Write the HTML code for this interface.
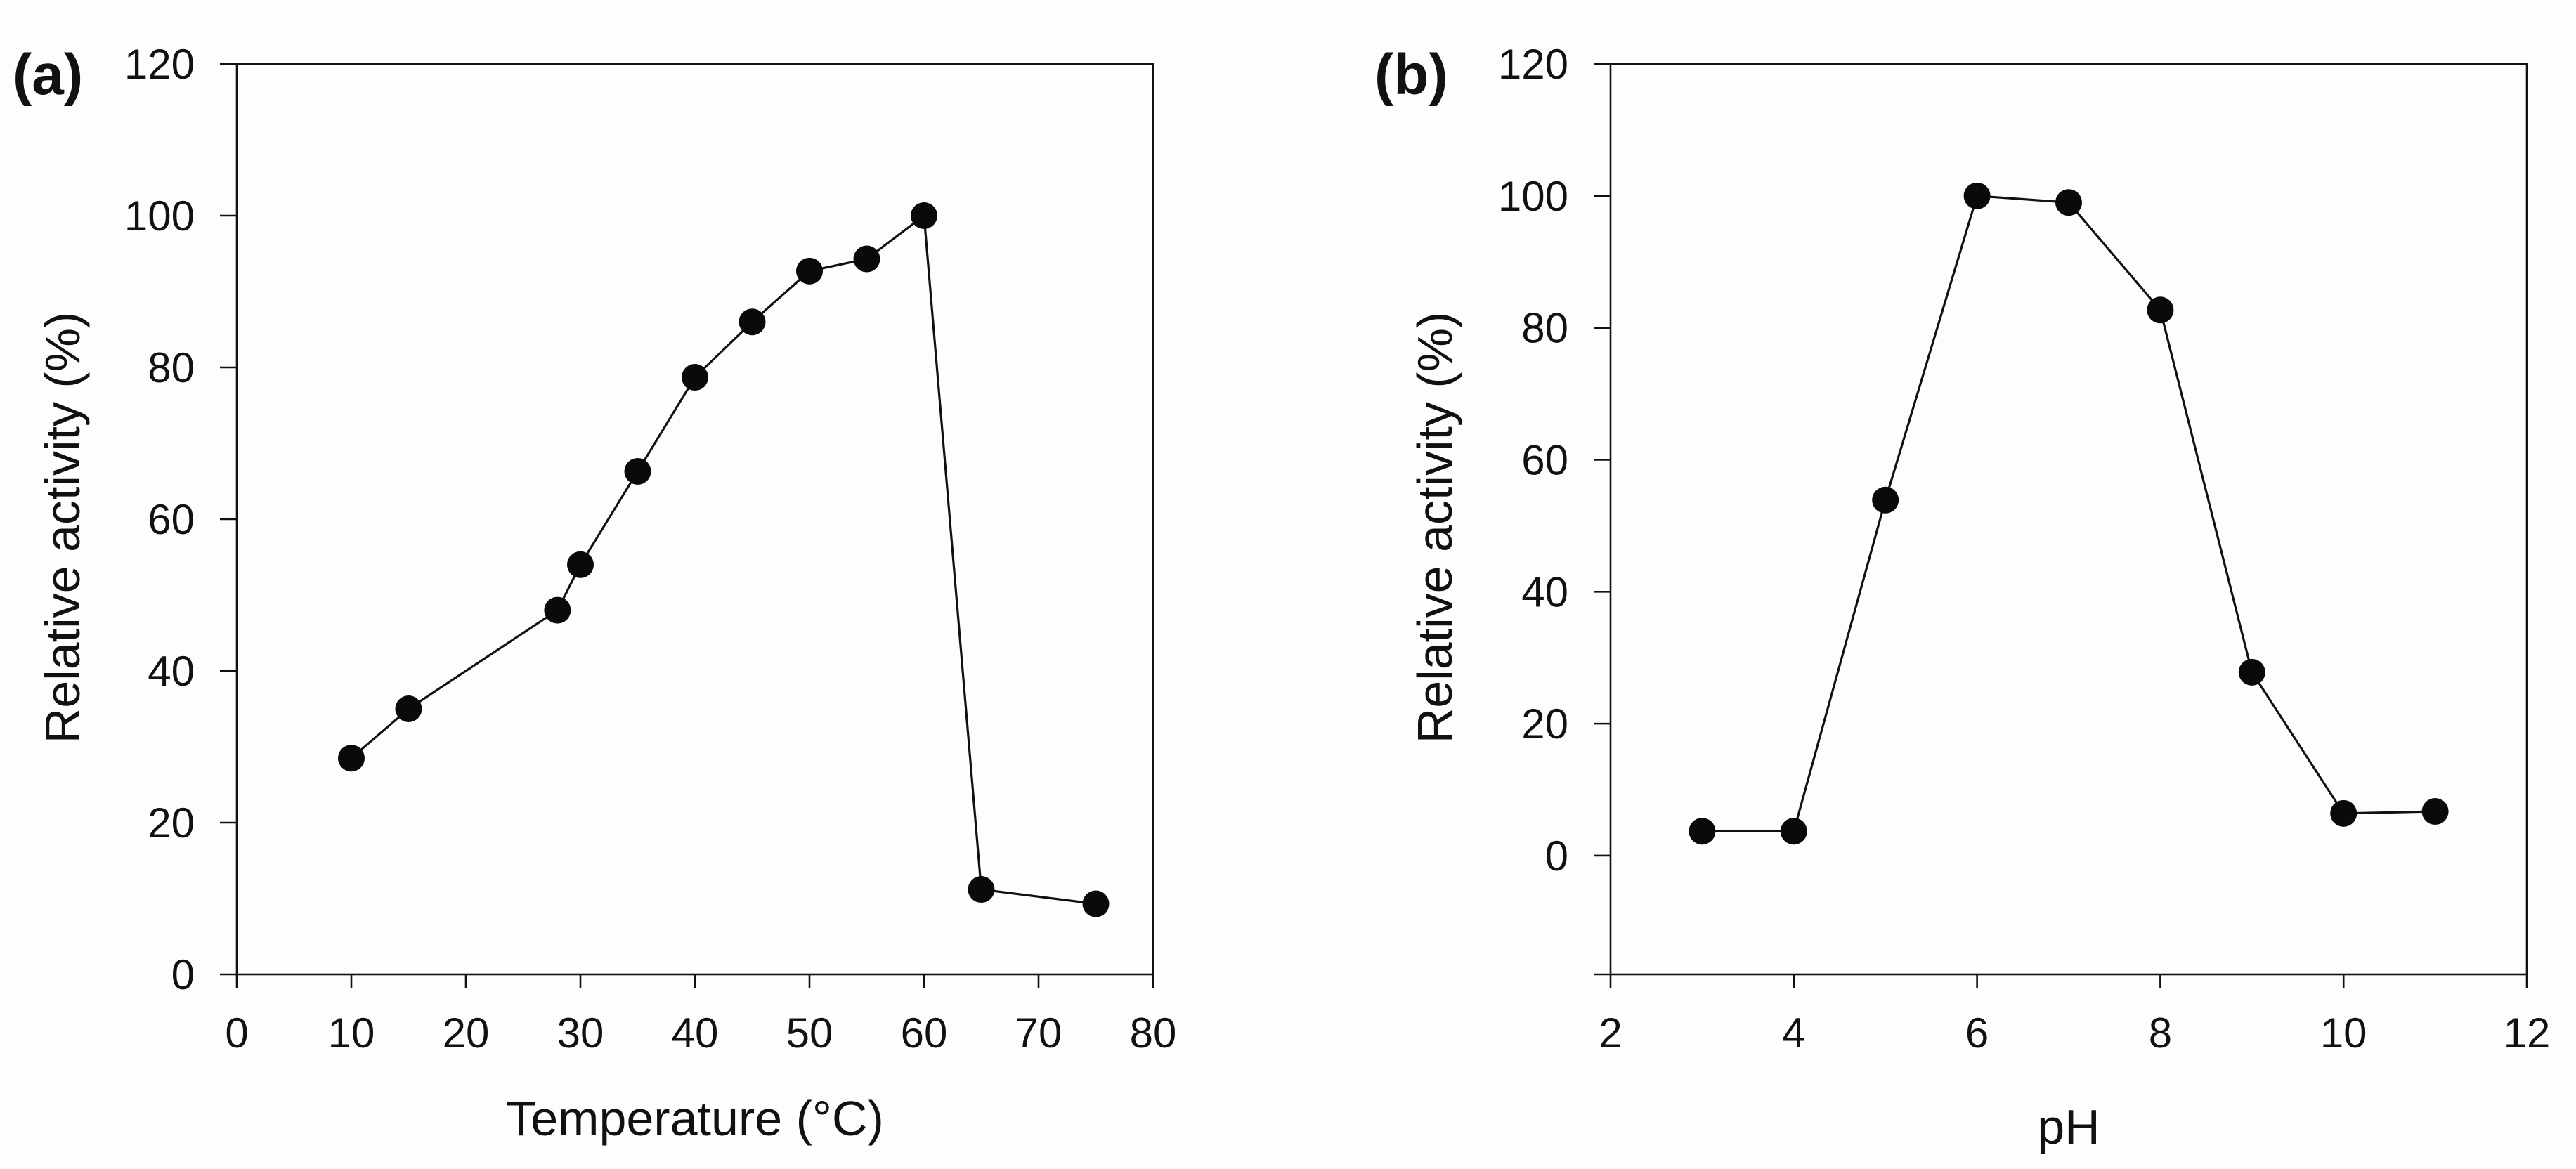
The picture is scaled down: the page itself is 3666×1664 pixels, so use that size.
<!DOCTYPE html>
<html><head><meta charset="utf-8">
<style>
html,body{margin:0;padding:0;background:#fefdfc;}
svg{display:block;font-family:"Liberation Sans",Arial,sans-serif;}
</style></head>
<body>
<svg id="fig" width="3666" height="1664" viewBox="0 0 3666 1664" xmlns="http://www.w3.org/2000/svg">
<rect x="0" y="0" width="3666" height="1664" fill="#fefdfc"/>
</svg>
<script>
// Panel (a): temperature
const tempX = [10, 15, 28, 30, 35, 40, 45, 50, 55, 60, 65, 75];
const tempY = [28.5, 35, 48, 54, 66.3, 78.7, 86, 92.7, 94.3, 100, 11.2, 9.3];
const tempXTicks = [0, 10, 20, 30, 40, 50, 60, 70, 80];
const tempYTicks = [0, 20, 40, 60, 80, 100, 120];
// Panel (b): pH
const phX = [3, 4, 5, 6, 7, 8, 9, 10, 11];
const phY = [3.7, 3.7, 53.9, 100, 99, 82.7, 27.8, 6.4, 6.7];
const phXTicks = [2, 4, 6, 8, 10, 12];
const phYTicks = [0, 20, 40, 60, 80, 100, 120];

const NS = "http://www.w3.org/2000/svg";
const svg = document.getElementById('fig');
function mk(tag, attrs, parent){
  const e = document.createElementNS(NS, tag);
  for (const k in attrs) e.setAttribute(k, attrs[k]);
  (parent || svg).appendChild(e);
  return e;
}

function panel(cfg){
  const g = mk('g', {});
  
  
  const L = cfg.left, R = cfg.right, T = 91, B = 1387;
  const sx = v => L + (v - cfg.xmin) / (cfg.xmax - cfg.xmin) * (R - L);
  const sy = v => B - (v - cfg.ymin) / (cfg.ymax - cfg.ymin) * (B - T);
  const frame = mk('rect', {x: L, y: T, width: R - L, height: B - T, fill: 'none', stroke: '#111', 'stroke-width': 2.6}, g);
  
  
  cfg.xticks.forEach(t => {
    const x = sx(t);
    const tk = mk('line', {x1: x, y1: B, x2: x, y2: B + 20, stroke: '#111', 'stroke-width': 2.6}, g);
    
    
    const lb = mk('text', {x: x, y: 1491, 'font-size': 60, 'text-anchor': 'middle', fill: '#111'}, g);
    lb.textContent = t;
    
    
  });
  cfg.yticks.forEach(t => {
    const y = sy(t);
    const tk = mk('line', {x1: L - 24, y1: y, x2: L, y2: y, stroke: '#111', 'stroke-width': 2.6}, g);
    
    
    const lb = mk('text', {x: L - 60, y: y + 21, 'font-size': 60, 'text-anchor': 'end', fill: '#111'}, g);
    lb.textContent = t;
    
    
  });
  if (cfg.ymin < 0) {
    const tk = mk('line', {x1: L - 24, y1: B, x2: L, y2: B, stroke: '#111', 'stroke-width': 2.6}, g);
    
    
  }
  const pts = cfg.xs.map((v, i) => sx(v) + ',' + sy(cfg.ys[i])).join(' ');
  const line = mk('polyline', {points: pts, fill: 'none', stroke: '#111', 'stroke-width': 3.2, 'stroke-linejoin': 'round'}, g);
  
  
  cfg.xs.forEach((v, i) => {
    const c = mk('circle', {cx: sx(v), cy: sy(cfg.ys[i]), r: 19, fill: '#0a0a0a'}, g);
    
    
  });
  const xt = mk('text', {x: (L + R) / 2, y: cfg.xtitleY, 'font-size': 70, 'text-anchor': 'middle', fill: '#111'}, g);
  xt.textContent = cfg.xtitle;
  
  
  const yt = mk('text', {x: 0, y: 0, 'font-size': 70, 'text-anchor': 'middle', fill: '#111', transform: 'translate(' + cfg.ytitleX + ',751) rotate(-90)'}, g);
  yt.textContent = 'Relative activity (%)';
  
  
  const pl = mk('text', {x: cfg.labelX, y: 134, 'font-size': 82, 'font-weight': 'bold', fill: '#111'}, g);
  pl.textContent = cfg.label;
  
  
}

panel({name: 'temperature-panel', left: 337, right: 1641, xmin: 0, xmax: 80, ymin: 0, ymax: 120,
  xticks: tempXTicks, yticks: tempYTicks, xs: tempX, ys: tempY,
  xtitle: 'Temperature (\u00B0C)', xtitleY: 1616, ytitleX: 113, label: '(a)', labelX: 18});
panel({name: 'ph-panel', left: 2292, right: 3596, xmin: 2, xmax: 12, ymin: -18, ymax: 120,
  xticks: phXTicks, yticks: phYTicks, xs: phX, ys: phY,
  xtitle: 'pH', xtitleY: 1628, ytitleX: 2066, label: '(b)', labelX: 1956});
</script>
</body></html>
